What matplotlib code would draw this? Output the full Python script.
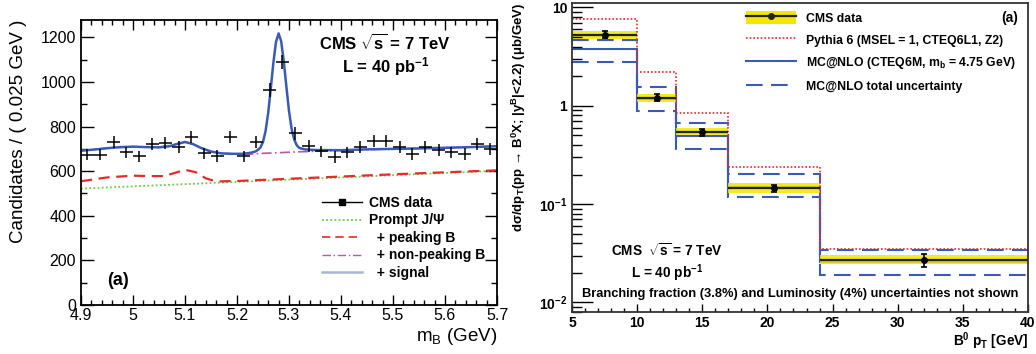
import matplotlib
matplotlib.use("Agg")
import matplotlib.pyplot as plt
from matplotlib.lines import Line2D
from matplotlib.patches import Patch
from matplotlib.ticker import MultipleLocator, FixedLocator, FixedFormatter, FuncFormatter, LogLocator, NullFormatter

plt.rcParams['font.family'] = ['Liberation Sans', 'DejaVu Sans']
plt.rcParams['mathtext.fontset'] = 'custom'
plt.rcParams['mathtext.rm'] = 'Liberation Sans'
plt.rcParams['mathtext.it'] = 'Liberation Sans:italic'
plt.rcParams['mathtext.bf'] = 'Liberation Sans:bold'

# ──────────────────────────────────────────────
#  Data: left panel (B mass fit)
# ──────────────────────────────────────────────

mass_centers = [4.9125, 4.9375, 4.9625, 4.9875, 5.0125, 5.0375, 5.0625, 5.0875,
                5.1125, 5.1375, 5.1625, 5.1875, 5.2125, 5.2375, 5.2625, 5.2875,
                5.3125, 5.3375, 5.3625, 5.3875, 5.4125, 5.4375, 5.4625, 5.4875,
                5.5125, 5.5375, 5.5625, 5.5875, 5.6125, 5.6375, 5.6625, 5.6875]
mass_counts = [674, 674, 729, 684, 666, 722, 726, 707,
               752, 680, 669, 752, 666, 729, 965, 1090,
               770, 714, 689, 665, 684, 707, 737, 737,
               707, 677, 707, 695, 684, 677, 722, 699]
mass_errors = [26, 26, 27, 26, 26, 27, 27, 27,
               27, 26, 26, 27, 26, 27, 31, 33,
               28, 27, 26, 26, 26, 27, 27, 27,
               27, 26, 27, 26, 26, 26, 27, 26]
bin_half = 0.0125

# fit components
prompt_x = [4.9, 5.1, 5.3, 5.5, 5.7]
prompt_y = [522, 542, 562, 582, 602]

peaking_x = [4.9, 4.95, 5.0, 5.03, 5.06, 5.08, 5.1, 5.12, 5.14, 5.16,
             5.2, 5.3, 5.4, 5.5, 5.6, 5.7]
peaking_y = [555, 572, 580, 578, 578, 592, 606, 596, 568, 554,
             556, 566, 576, 586, 595, 604]

nonpeak_x = [4.9, 4.95, 5.0, 5.05, 5.085, 5.1, 5.115, 5.13, 5.15, 5.17, 5.19,
             5.215, 5.25, 5.3, 5.334, 5.4, 5.5, 5.6, 5.7]
nonpeak_y = [692, 703, 710, 707, 722, 731, 722, 705, 688, 680, 678,
             675, 680, 685, 688, 693, 700, 705, 712]

signal_x = [4.9, 4.925, 4.95, 4.975, 5.0, 5.025, 5.05, 5.07, 5.085, 5.1, 5.115,
            5.13, 5.15, 5.17, 5.19, 5.21, 5.225, 5.235, 5.24, 5.245, 5.25,
            5.255, 5.26, 5.265, 5.27, 5.275, 5.28, 5.285, 5.29, 5.295, 5.3,
            5.305, 5.31, 5.315, 5.32, 5.33, 5.35, 5.4, 5.45, 5.5, 5.55, 5.6,
            5.65, 5.7]
signal_y = [692, 697, 703, 708, 710, 708, 707, 712, 722, 731, 722,
            705, 688, 680, 678, 678, 682, 688, 695, 706, 731,
            781, 862, 972, 1087, 1180, 1218, 1182, 1092, 978, 870,
            790, 742, 716, 704, 698, 695, 694, 698, 700, 702, 705,
            708, 712]

# ──────────────────────────────────────────────
#  Data: right panel (dsigma/dpT)
# ──────────────────────────────────────────────

pt_edges = [5, 10, 13, 17, 24, 40]
pt_points = [7.55, 11.5, 15.0, 20.5, 32.0]
xsec = [5.3, 1.21, 0.538, 0.145, 0.0272]
xsec_err = [0.45, 0.10, 0.045, 0.013, 0.004]
band_lo = [4.73, 1.10, 0.50, 0.131, 0.0248]
band_hi = [5.78, 1.31, 0.59, 0.163, 0.0305]
pythia = [7.55, 2.2, 0.84, 0.238, 0.0351]
mcnlo = [3.75, 1.17, 0.493, 0.15, 0.026]
mcnlo_hi = [4.7, 1.56, 0.664, 0.203, 0.0345]
mcnlo_lo = [2.76, 0.885, 0.367, 0.117, 0.0191]

# ──────────────────────────────────────────────
#  Figure
# ──────────────────────────────────────────────

W, H = 1036, 354
fig = plt.figure(figsize=(W / 100, H / 100), dpi=100)
ax1 = fig.add_axes([81 / W, 1 - 305 / H, 416 / W, 285 / H])
ax2 = fig.add_axes([572 / W, 1 - 312 / H, 456 / W, 309 / H])

BLUE = '#3a5bb5'
RED = '#e8292b'
GREEN = '#6ccc4a'
MAGENTA = '#b657a8'
YELLOW = '#f2e600'

# ── left panel ─────────────────────────────

ax1.plot(prompt_x, prompt_y, color=GREEN, lw=1.3, ls=(0, (1, 1.3)))
ax1.plot(peaking_x, peaking_y, color=RED, lw=1.6, ls=(0, (5, 3)))
ax1.plot(nonpeak_x, nonpeak_y, color=MAGENTA, lw=1.2, ls=(0, (6, 2, 1, 2)))
ax1.plot(signal_x, signal_y, color=BLUE, lw=1.8)
ax1.errorbar(mass_centers, mass_counts, xerr=bin_half, yerr=mass_errors,
             fmt='none', ecolor='black', elinewidth=1.1, capsize=0)

ax1.set_xlim(4.9, 5.7)
ax1.set_ylim(0, 1278)
ax1.xaxis.set_major_locator(MultipleLocator(0.1))
ax1.xaxis.set_minor_locator(MultipleLocator(0.02))
ax1.yaxis.set_major_locator(MultipleLocator(200))
ax1.yaxis.set_minor_locator(MultipleLocator(100))
ax1.xaxis.set_major_formatter(FuncFormatter(lambda v, p: f"{v:g}"))
ax1.tick_params(which='both', direction='in', top=True, right=True, labelsize=11.5, width=1)
ax1.tick_params(axis='y', which='major', length=9)
ax1.tick_params(axis='y', which='minor', length=4.5)
ax1.tick_params(axis='x', which='major', length=7, pad=2)
ax1.tick_params(axis='x', which='minor', length=3.5)
for s in ax1.spines.values():
    s.set_linewidth(1.3)

ax1.set_xlabel(r'm$_\mathregular{B}$ (GeV)', fontsize=13.5, loc='right', labelpad=2)
ax1.set_ylabel('Candidates / ( 0.025 GeV )', fontsize=13.5, loc='top', labelpad=10)

ax1.text(0.731, 0.92, r'CMS $\mathbf{\sqrt{s}}$ = 7 TeV', transform=ax1.transAxes,
         ha='center', va='center', fontsize=12, fontweight='bold')
ax1.text(0.733, 0.835, r'L = 40 pb$^\mathbf{-1}$', transform=ax1.transAxes,
         ha='center', va='center', fontsize=12, fontweight='bold')
ax1.text(0.09, 0.085, '(a)', transform=ax1.transAxes, ha='center', va='center',
         fontsize=13, fontweight='bold')

left_handles = [
    Line2D([], [], color='black', lw=1, marker='s', markersize=4),
    Line2D([], [], color=GREEN, lw=1.3, ls=(0, (1, 1.3))),
    Line2D([], [], color=RED, lw=1.2, ls=(0, (5, 3))),
    Line2D([], [], color=MAGENTA, lw=1.0, ls=(0, (6, 2, 1, 2))),
    Line2D([], [], color='#a8b6d8', lw=1.8),
]
left_labels = ['CMS data', 'Prompt J/Ψ', '  + peaking B', '  + non-peaking B', '  + signal']
leg1 = ax1.legend(left_handles, left_labels, loc='upper left',
                  bbox_to_anchor=(322 / W, 1 - 196 / H), bbox_transform=fig.transFigure,
                  frameon=False, borderpad=0, borderaxespad=0, handlelength=2.9,
                  handletextpad=0.5, labelspacing=0.25,
                  prop={'size': 10, 'weight': 'bold'})

# ── right panel ────────────────────────────

ax2.stairs(mcnlo_hi, pt_edges, baseline=None, color=BLUE, lw=1.5, ls=(0, (8, 4)))
ax2.stairs(mcnlo_lo, pt_edges, baseline=None, color=BLUE, lw=1.5, ls=(0, (8, 4)))
ax2.stairs(mcnlo, pt_edges, baseline=None, color=BLUE, lw=1.5)
ax2.stairs(band_hi, pt_edges, baseline=band_lo, fill=True, color=YELLOW, alpha=0.85, lw=0)
ax2.hlines(xsec, pt_edges[:-1], pt_edges[1:], color='#222222', lw=1.6)
ax2.stairs(pythia, pt_edges, baseline=None, color=RED, lw=1.2, ls=(0, (1, 1.2)))
ax2.errorbar(pt_points, xsec, yerr=xsec_err, fmt='o', color='black', markersize=4,
             elinewidth=1.2, capsize=2, capthick=1.2)

ax2.set_yscale('log')
ax2.set_xlim(5, 40)
ax2.set_ylim(0.008, 11.1)
ax2.xaxis.set_major_locator(MultipleLocator(5))
ax2.xaxis.set_minor_locator(MultipleLocator(1))
ax2.yaxis.set_major_locator(FixedLocator([0.01, 0.1, 1, 10]))
ax2.yaxis.set_major_formatter(FixedFormatter([r'$\mathbf{10^{-2}}$', r'$\mathbf{10^{-1}}$', '1', '10']))
ax2.yaxis.set_minor_locator(LogLocator(base=10, subs=range(2, 10)))
ax2.yaxis.set_minor_formatter(NullFormatter())
ax2.tick_params(which='both', direction='in', top=False, right=False, labelsize=10, width=1)
ax2.tick_params(axis='y', which='major', length=15)
ax2.tick_params(axis='y', which='minor', length=7)
ax2.tick_params(axis='x', which='major', length=6, pad=3)
ax2.tick_params(axis='x', which='minor', length=3)
for lab in ax2.get_xticklabels() + ax2.get_yticklabels():
    lab.set_fontweight('bold')
for s in ax2.spines.values():
    s.set_linewidth(1.3)
    s.set_color('#333333')

ax2.set_xlabel(r'B$^\mathbf{0}$ p$_\mathbf{T}$ [GeV]', fontsize=9.8, fontweight='bold',
               loc='right', labelpad=0)
ax2.set_ylabel(r'dσ/dp$_\mathbf{T}$(pp → B$^\mathbf{0}$X; |y$^\mathbf{B}$|<2.2) (μb/GeV)',
               fontsize=9.5, fontweight='bold', loc='top', labelpad=8)

ax2.text(0.208, 0.198, r'CMS  $\mathbf{\sqrt{s}}$ = 7 TeV', transform=ax2.transAxes,
         ha='center', va='center', fontsize=9.8, fontweight='bold')
ax2.text(0.208, 0.127, r'L = 40 pb$^\mathbf{-1}$', transform=ax2.transAxes,
         ha='center', va='center', fontsize=9.8, fontweight='bold')
ax2.text(0.5, 0.059, 'Branching fraction (3.8%) and Luminosity (4%) uncertainties not shown',
         transform=ax2.transAxes, ha='center', va='center', fontsize=9.3, fontweight='bold')
ax2.text(0.978, 0.95, '(a)', transform=ax2.transAxes, ha='right', va='center',
         fontsize=10, fontweight='bold')

right_handles = [
    (Patch(facecolor=YELLOW, edgecolor='none'),
     Line2D([], [], color='#222222', lw=1.6, marker='o', markersize=4)),
    Line2D([], [], color=RED, lw=1.2, ls=(0, (1, 1.2))),
    Line2D([], [], color=BLUE, lw=1.5),
    Line2D([], [], color=BLUE, lw=1.5, ls=(0, (8, 4))),
]
right_labels = ['CMS data', 'Pythia 6 (MSEL = 1, CTEQ6L1, Z2)',
                r'MC@NLO (CTEQ6M, m$_\mathbf{b}$ = 4.75 GeV)', 'MC@NLO total uncertainty']
leg2 = ax2.legend(right_handles, right_labels, loc='upper left',
                  bbox_to_anchor=(746 / W, 1 - 11 / H), bbox_transform=fig.transFigure,
                  frameon=False, borderpad=0, borderaxespad=0, handlelength=4.1,
                  handleheight=1.3, handletextpad=0.8, labelspacing=0.68,
                  prop={'size': 8.8, 'weight': 'bold'})

fig.savefig('out.png', dpi=100)
